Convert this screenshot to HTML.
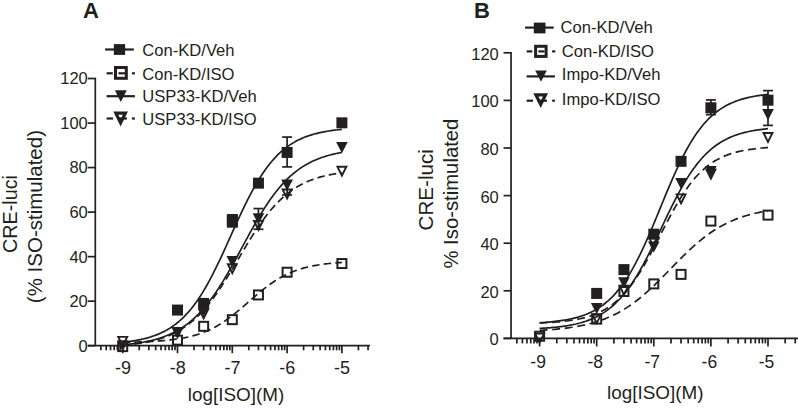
<!DOCTYPE html>
<html><head><meta charset="utf-8"><style>
html,body{margin:0;padding:0;background:#fff;}
svg{display:block;}
text{font-family:"Liberation Sans",sans-serif;fill:#231f20;stroke:none;}
</style></head><body>
<svg width="798" height="408" viewBox="0 0 798 408">
<rect width="798" height="408" fill="#fff"/>
<g stroke="#231f20" stroke-width="1.7" fill="none">
<line x1="95.30" y1="77.67" x2="95.30" y2="345.70" />
<line x1="87.80" y1="345.70" x2="95.30" y2="345.70" />
<text x="87.80" y="351.60" text-anchor="end" font-size="16.5">0</text>
<line x1="87.80" y1="301.17" x2="95.30" y2="301.17" />
<text x="87.80" y="307.07" text-anchor="end" font-size="16.5">20</text>
<line x1="87.80" y1="256.64" x2="95.30" y2="256.64" />
<text x="87.80" y="262.54" text-anchor="end" font-size="16.5">40</text>
<line x1="87.80" y1="212.11" x2="95.30" y2="212.11" />
<text x="87.80" y="218.01" text-anchor="end" font-size="16.5">60</text>
<line x1="87.80" y1="167.58" x2="95.30" y2="167.58" />
<text x="87.80" y="173.48" text-anchor="end" font-size="16.5">80</text>
<line x1="87.80" y1="123.05" x2="95.30" y2="123.05" />
<text x="87.80" y="128.95" text-anchor="end" font-size="16.5">100</text>
<line x1="87.80" y1="78.52" x2="95.30" y2="78.52" />
<text x="87.80" y="84.42" text-anchor="end" font-size="16.5">120</text>
<line x1="87.80" y1="345.70" x2="369.90" y2="345.70" />
<line x1="100.89" y1="345.70" x2="100.89" y2="350.30" />
<line x1="106.20" y1="345.70" x2="106.20" y2="350.30" />
<line x1="110.54" y1="345.70" x2="110.54" y2="350.30" />
<line x1="114.21" y1="345.70" x2="114.21" y2="350.30" />
<line x1="117.39" y1="345.70" x2="117.39" y2="350.30" />
<line x1="120.19" y1="345.70" x2="120.19" y2="350.30" />
<line x1="122.70" y1="345.70" x2="122.70" y2="353.20" />
<line x1="139.20" y1="345.70" x2="139.20" y2="350.30" />
<line x1="148.85" y1="345.70" x2="148.85" y2="350.30" />
<line x1="155.69" y1="345.70" x2="155.69" y2="350.30" />
<line x1="161.00" y1="345.70" x2="161.00" y2="350.30" />
<line x1="165.34" y1="345.70" x2="165.34" y2="350.30" />
<line x1="169.01" y1="345.70" x2="169.01" y2="350.30" />
<line x1="172.19" y1="345.70" x2="172.19" y2="350.30" />
<line x1="174.99" y1="345.70" x2="174.99" y2="350.30" />
<line x1="177.50" y1="345.70" x2="177.50" y2="353.20" />
<line x1="194.00" y1="345.70" x2="194.00" y2="350.30" />
<line x1="203.65" y1="345.70" x2="203.65" y2="350.30" />
<line x1="210.49" y1="345.70" x2="210.49" y2="350.30" />
<line x1="215.80" y1="345.70" x2="215.80" y2="350.30" />
<line x1="220.14" y1="345.70" x2="220.14" y2="350.30" />
<line x1="223.81" y1="345.70" x2="223.81" y2="350.30" />
<line x1="226.99" y1="345.70" x2="226.99" y2="350.30" />
<line x1="229.79" y1="345.70" x2="229.79" y2="350.30" />
<line x1="232.30" y1="345.70" x2="232.30" y2="353.20" />
<line x1="248.80" y1="345.70" x2="248.80" y2="350.30" />
<line x1="258.45" y1="345.70" x2="258.45" y2="350.30" />
<line x1="265.29" y1="345.70" x2="265.29" y2="350.30" />
<line x1="270.60" y1="345.70" x2="270.60" y2="350.30" />
<line x1="274.94" y1="345.70" x2="274.94" y2="350.30" />
<line x1="278.61" y1="345.70" x2="278.61" y2="350.30" />
<line x1="281.79" y1="345.70" x2="281.79" y2="350.30" />
<line x1="284.59" y1="345.70" x2="284.59" y2="350.30" />
<line x1="287.10" y1="345.70" x2="287.10" y2="353.20" />
<line x1="303.60" y1="345.70" x2="303.60" y2="350.30" />
<line x1="313.25" y1="345.70" x2="313.25" y2="350.30" />
<line x1="320.09" y1="345.70" x2="320.09" y2="350.30" />
<line x1="325.40" y1="345.70" x2="325.40" y2="350.30" />
<line x1="329.74" y1="345.70" x2="329.74" y2="350.30" />
<line x1="333.41" y1="345.70" x2="333.41" y2="350.30" />
<line x1="336.59" y1="345.70" x2="336.59" y2="350.30" />
<line x1="339.39" y1="345.70" x2="339.39" y2="350.30" />
<line x1="341.90" y1="345.70" x2="341.90" y2="353.20" />
<line x1="358.40" y1="345.70" x2="358.40" y2="350.30" />
<line x1="368.05" y1="345.70" x2="368.05" y2="350.30" />
<text x="122.90" y="373.60" text-anchor="middle" font-size="18">-9</text>
<text x="177.70" y="373.60" text-anchor="middle" font-size="18">-8</text>
<text x="232.50" y="373.60" text-anchor="middle" font-size="18">-7</text>
<text x="287.30" y="373.60" text-anchor="middle" font-size="18">-6</text>
<text x="342.10" y="373.60" text-anchor="middle" font-size="18">-5</text>
<polyline fill="none" points="122.70,342.26 124.54,342.06 126.38,341.85 128.23,341.61 130.07,341.36 131.91,341.10 133.75,340.81 135.59,340.49 137.44,340.16 139.28,339.80 141.12,339.42 142.96,339.00 144.80,338.56 146.65,338.08 148.49,337.56 150.33,337.01 152.17,336.42 154.01,335.79 155.86,335.11 157.70,334.39 159.54,333.61 161.38,332.78 163.22,331.89 165.07,330.94 166.91,329.93 168.75,328.85 170.59,327.69 172.43,326.46 174.28,325.15 176.12,323.76 177.96,322.28 179.80,320.71 181.64,319.05 183.49,317.28 185.33,315.42 187.17,313.45 189.01,311.37 190.85,309.18 192.70,306.87 194.54,304.45 196.38,301.91 198.22,299.26 200.06,296.48 201.91,293.59 203.75,290.58 205.59,287.45 207.43,284.21 209.27,280.87 211.12,277.41 212.96,273.86 214.80,270.21 216.64,266.47 218.48,262.65 220.33,258.76 222.17,254.82 224.01,250.81 225.85,246.77 227.69,242.70 229.54,238.61 231.38,234.51 233.22,230.42 235.06,226.34 236.91,222.29 238.75,218.27 240.59,214.31 242.43,210.40 244.27,206.57 246.12,202.81 247.96,199.13 249.80,195.55 251.64,192.07 253.48,188.69 255.33,185.42 257.17,182.26 259.01,179.22 260.85,176.29 262.69,173.49 264.54,170.80 266.38,168.23 268.22,165.78 270.06,163.44 271.90,161.22 273.75,159.11 275.59,157.11 277.43,155.21 279.27,153.42 281.11,151.73 282.96,150.13 284.80,148.63 286.64,147.22 288.48,145.88 290.32,144.63 292.17,143.46 294.01,142.36 295.85,141.32 297.69,140.36 299.53,139.45 301.38,138.61 303.22,137.81 305.06,137.07 306.90,136.38 308.74,135.74 310.59,135.14 312.43,134.58 314.27,134.05 316.11,133.57 317.95,133.11 319.80,132.69 321.64,132.30 323.48,131.93 325.32,131.59 327.16,131.27 329.01,130.98 330.85,130.70 332.69,130.45 334.53,130.21 336.37,129.99 338.22,129.78 340.06,129.59 341.90,129.42" />
<polyline fill="none" points="122.70,342.35 124.54,342.32 126.38,342.28 128.23,342.25 130.07,342.21 131.91,342.17 133.75,342.12 135.59,342.08 137.44,342.02 139.28,341.97 141.12,341.91 142.96,341.84 144.80,341.77 146.65,341.69 148.49,341.61 150.33,341.52 152.17,341.42 154.01,341.32 155.86,341.21 157.70,341.08 159.54,340.95 161.38,340.81 163.22,340.66 165.07,340.50 166.91,340.32 168.75,340.13 170.59,339.92 172.43,339.70 174.28,339.46 176.12,339.21 177.96,338.93 179.80,338.64 181.64,338.32 183.49,337.98 185.33,337.62 187.17,337.23 189.01,336.81 190.85,336.36 192.70,335.89 194.54,335.38 196.38,334.83 198.22,334.25 200.06,333.63 201.91,332.98 203.75,332.28 205.59,331.54 207.43,330.76 209.27,329.93 211.12,329.06 212.96,328.14 214.80,327.17 216.64,326.15 218.48,325.08 220.33,323.97 222.17,322.80 224.01,321.59 225.85,320.33 227.69,319.03 229.54,317.68 231.38,316.29 233.22,314.86 235.06,313.40 236.91,311.90 238.75,310.37 240.59,308.81 242.43,307.24 244.27,305.65 246.12,304.05 247.96,302.44 249.80,300.83 251.64,299.22 253.48,297.62 255.33,296.03 257.17,294.46 259.01,292.91 260.85,291.39 262.69,289.90 264.54,288.45 266.38,287.03 268.22,285.65 270.06,284.31 271.90,283.02 273.75,281.77 275.59,280.57 277.43,279.42 279.27,278.32 281.11,277.27 282.96,276.26 284.80,275.31 286.64,274.40 288.48,273.54 290.32,272.72 292.17,271.95 294.01,271.22 295.85,270.54 297.69,269.89 299.53,269.28 301.38,268.71 303.22,268.18 305.06,267.68 306.90,267.21 308.74,266.77 310.59,266.36 312.43,265.98 314.27,265.62 316.11,265.29 317.95,264.98 319.80,264.69 321.64,264.42 323.48,264.17 325.32,263.93 327.16,263.72 329.01,263.52 330.85,263.33 332.69,263.16 334.53,262.99 336.37,262.85 338.22,262.71 340.06,262.58 341.90,262.46" stroke-dasharray="7.5,4.2" />
<polyline fill="none" points="122.70,344.81 124.54,344.64 126.38,344.47 128.23,344.28 130.07,344.08 131.91,343.86 133.75,343.63 135.59,343.39 137.44,343.12 139.28,342.84 141.12,342.54 142.96,342.23 144.80,341.89 146.65,341.52 148.49,341.14 150.33,340.72 152.17,340.28 154.01,339.81 155.86,339.32 157.70,338.78 159.54,338.22 161.38,337.62 163.22,336.97 165.07,336.29 166.91,335.57 168.75,334.80 170.59,333.98 172.43,333.12 174.28,332.20 176.12,331.23 177.96,330.20 179.80,329.11 181.64,327.95 183.49,326.73 185.33,325.45 187.17,324.09 189.01,322.66 190.85,321.15 192.70,319.57 194.54,317.91 196.38,316.16 198.22,314.33 200.06,312.41 201.91,310.41 203.75,308.32 205.59,306.14 207.43,303.87 209.27,301.51 211.12,299.06 212.96,296.52 214.80,293.90 216.64,291.19 218.48,288.40 220.33,285.53 222.17,282.59 224.01,279.57 225.85,276.49 227.69,273.34 229.54,270.14 231.38,266.89 233.22,263.59 235.06,260.26 236.91,256.90 238.75,253.51 240.59,250.11 242.43,246.71 244.27,243.31 246.12,239.91 247.96,236.54 249.80,233.18 251.64,229.87 253.48,226.59 255.33,223.35 257.17,220.17 259.01,217.05 260.85,214.00 262.69,211.01 264.54,208.09 266.38,205.26 268.22,202.50 270.06,199.83 271.90,197.24 273.75,194.74 275.59,192.33 277.43,190.00 279.27,187.77 281.11,185.63 282.96,183.57 284.80,181.60 286.64,179.72 288.48,177.93 290.32,176.21 292.17,174.58 294.01,173.03 295.85,171.56 297.69,170.16 299.53,168.83 301.38,167.57 303.22,166.38 305.06,165.25 306.90,164.18 308.74,163.18 310.59,162.23 312.43,161.33 314.27,160.48 316.11,159.69 317.95,158.94 319.80,158.23 321.64,157.57 323.48,156.94 325.32,156.36 327.16,155.80 329.01,155.29 330.85,154.80 332.69,154.34 334.53,153.91 336.37,153.51 338.22,153.13 340.06,152.78 341.90,152.45" />
<polyline fill="none" points="122.70,345.30 124.54,345.14 126.38,344.98 128.23,344.80 130.07,344.61 131.91,344.40 133.75,344.19 135.59,343.95 137.44,343.70 139.28,343.44 141.12,343.15 142.96,342.85 144.80,342.52 146.65,342.17 148.49,341.80 150.33,341.41 152.17,340.98 154.01,340.53 155.86,340.05 157.70,339.54 159.54,338.99 161.38,338.41 163.22,337.79 165.07,337.13 166.91,336.43 168.75,335.68 170.59,334.89 172.43,334.05 174.28,333.16 176.12,332.21 177.96,331.21 179.80,330.15 181.64,329.03 183.49,327.84 185.33,326.59 187.17,325.27 189.01,323.88 190.85,322.41 192.70,320.87 194.54,319.26 196.38,317.56 198.22,315.78 200.06,313.93 201.91,311.99 203.75,309.96 205.59,307.86 207.43,305.66 209.27,303.39 211.12,301.04 212.96,298.60 214.80,296.09 216.64,293.50 218.48,290.84 220.33,288.12 222.17,285.32 224.01,282.47 225.85,279.57 227.69,276.61 229.54,273.62 231.38,270.58 233.22,267.52 235.06,264.44 236.91,261.34 238.75,258.24 240.59,255.13 242.43,252.03 244.27,248.95 246.12,245.89 247.96,242.86 249.80,239.87 251.64,236.92 253.48,234.02 255.33,231.17 257.17,228.39 259.01,225.67 260.85,223.01 262.69,220.43 264.54,217.93 266.38,215.50 268.22,213.16 270.06,210.89 271.90,208.71 273.75,206.61 275.59,204.60 277.43,202.66 279.27,200.81 281.11,199.04 282.96,197.36 284.80,195.75 286.64,194.21 288.48,192.76 290.32,191.37 292.17,190.06 294.01,188.81 295.85,187.63 297.69,186.52 299.53,185.46 301.38,184.47 303.22,183.53 305.06,182.64 306.90,181.80 308.74,181.02 310.59,180.27 312.43,179.58 314.27,178.92 316.11,178.31 317.95,177.73 319.80,177.19 321.64,176.68 323.48,176.20 325.32,175.75 327.16,175.33 329.01,174.94 330.85,174.57 332.69,174.22 334.53,173.90 336.37,173.60 338.22,173.31 340.06,173.05 341.90,172.80" stroke-dasharray="7.5,4.2" />
<line x1="287.10" y1="137.08" x2="287.10" y2="166.91"/>
<line x1="282.10" y1="137.08" x2="292.10" y2="137.08"/>
<line x1="282.10" y1="166.91" x2="292.10" y2="166.91"/>
<line x1="258.45" y1="208.55" x2="258.45" y2="229.25"/>
<line x1="253.45" y1="208.55" x2="263.45" y2="208.55"/>
<line x1="253.45" y1="229.25" x2="263.45" y2="229.25"/>
<line x1="287.10" y1="180.94" x2="287.10" y2="194.97"/>
<line x1="282.10" y1="180.94" x2="292.10" y2="180.94"/>
<line x1="282.10" y1="194.97" x2="292.10" y2="194.97"/>
<rect x="172.00" y="304.58" width="11.00" height="11.00" fill="#231f20" stroke="none"/>
<rect x="198.15" y="297.90" width="11.00" height="11.00" fill="#231f20" stroke="none"/>
<rect x="226.80" y="215.29" width="11.00" height="11.00" fill="#231f20" stroke="none"/>
<rect x="252.95" y="177.67" width="11.00" height="11.00" fill="#231f20" stroke="none"/>
<rect x="281.60" y="146.94" width="11.00" height="11.00" fill="#231f20" stroke="none"/>
<rect x="336.40" y="117.33" width="11.00" height="11.00" fill="#231f20" stroke="none"/>
<rect x="226.95" y="214.00" width="10.90" height="13.70" fill="#231f20" stroke="none"/>
<rect x="118.20" y="342.09" width="9.00" height="9.00" fill="none" stroke-width="2.0"/>
<rect x="173.00" y="335.63" width="9.00" height="9.00" fill="none" stroke-width="2.0"/>
<rect x="199.15" y="321.83" width="9.00" height="9.00" fill="none" stroke-width="2.0"/>
<rect x="227.80" y="315.15" width="9.00" height="9.00" fill="none" stroke-width="2.0"/>
<rect x="253.95" y="290.44" width="9.00" height="9.00" fill="none" stroke-width="2.0"/>
<rect x="282.60" y="267.73" width="9.00" height="9.00" fill="none" stroke-width="2.0"/>
<rect x="337.40" y="259.04" width="9.00" height="9.00" fill="none" stroke-width="2.0"/>
<polygon points="116.90,340.32 128.50,340.32 122.70,351.52" fill="#231f20" stroke="none"/>
<polygon points="171.70,326.96 183.30,326.96 177.50,338.16" fill="#231f20" stroke="none"/>
<polygon points="197.85,305.37 209.45,305.37 203.65,316.57" fill="#231f20" stroke="none"/>
<polygon points="226.50,255.94 238.10,255.94 232.30,267.14" fill="#231f20" stroke="none"/>
<polygon points="252.65,213.19 264.25,213.19 258.45,224.39" fill="#231f20" stroke="none"/>
<polygon points="281.30,179.57 292.90,179.57 287.10,190.77" fill="#231f20" stroke="none"/>
<polygon points="336.10,141.94 347.70,141.94 341.90,153.14" fill="#231f20" stroke="none"/>
<polygon points="118.24,336.86 127.16,336.86 122.70,345.79" fill="none" stroke-width="1.9" stroke-linejoin="miter" stroke-miterlimit="10"/>
<polygon points="173.04,328.18 181.96,328.18 177.50,337.11" fill="none" stroke-width="1.9" stroke-linejoin="miter" stroke-miterlimit="10"/>
<polygon points="199.18,309.48 208.11,309.48 203.65,318.40" fill="none" stroke-width="1.9" stroke-linejoin="miter" stroke-miterlimit="10"/>
<polygon points="227.84,264.28 236.76,264.28 232.30,273.21" fill="none" stroke-width="1.9" stroke-linejoin="miter" stroke-miterlimit="10"/>
<polygon points="253.98,220.86 262.91,220.86 258.45,229.79" fill="none" stroke-width="1.9" stroke-linejoin="miter" stroke-miterlimit="10"/>
<polygon points="282.64,189.47 291.56,189.47 287.10,198.40" fill="none" stroke-width="1.9" stroke-linejoin="miter" stroke-miterlimit="10"/>
<polygon points="337.44,166.76 346.36,166.76 341.90,175.69" fill="none" stroke-width="1.9" stroke-linejoin="miter" stroke-miterlimit="10"/>
<line x1="105.10" y1="49.50" x2="133.80" y2="49.50" stroke-width="2.2"/>
<rect x="113.85" y="44.10" width="11.30" height="10.80" fill="#231f20" stroke="none"/>
<line x1="106.60" y1="73.30" x2="112.80" y2="73.30" stroke-width="2.2"/>
<line x1="131.90" y1="73.30" x2="134.90" y2="73.30" stroke-width="2.2"/>
<rect x="115.50" y="67.50" width="10.80" height="10.80" fill="none" stroke-width="3.0"/>
<line x1="118.40" y1="73.30" x2="125.00" y2="73.30" stroke-width="2.2"/>
<line x1="106.60" y1="96.20" x2="134.90" y2="96.20" stroke-width="2.2"/>
<polygon points="114.85,90.30 126.75,90.30 120.80,101.90" fill="#231f20" stroke="none"/>
<line x1="106.60" y1="118.50" x2="113.00" y2="118.50" stroke-width="2.2"/>
<line x1="131.90" y1="118.50" x2="134.90" y2="118.50" stroke-width="2.2"/>
<polygon points="115.85,113.10 125.35,113.10 120.60,122.92" fill="none" stroke-width="3.2" stroke-linejoin="miter" stroke-miterlimit="10"/>
<line x1="117.50" y1="118.50" x2="127.00" y2="118.50" stroke-width="2.2"/>
<text x="142.30" y="56.10" font-size="16.6">Con-KD/Veh</text>
<text x="142.30" y="80.00" font-size="16.6">Con-KD/ISO</text>
<text x="142.30" y="102.00" font-size="16.6">USP33-KD/Veh</text>
<text x="142.30" y="124.50" font-size="16.6">USP33-KD/ISO</text>
<line x1="511.05" y1="51.95" x2="511.05" y2="338.40" />
<line x1="503.55" y1="338.40" x2="511.05" y2="338.40" />
<text x="498.80" y="345.30" text-anchor="end" font-size="16.5">0</text>
<line x1="503.55" y1="290.80" x2="511.05" y2="290.80" />
<text x="498.80" y="297.70" text-anchor="end" font-size="16.5">20</text>
<line x1="503.55" y1="243.20" x2="511.05" y2="243.20" />
<text x="498.80" y="250.10" text-anchor="end" font-size="16.5">40</text>
<line x1="503.55" y1="195.60" x2="511.05" y2="195.60" />
<text x="498.80" y="202.50" text-anchor="end" font-size="16.5">60</text>
<line x1="503.55" y1="148.00" x2="511.05" y2="148.00" />
<text x="498.80" y="154.90" text-anchor="end" font-size="16.5">80</text>
<line x1="503.55" y1="100.40" x2="511.05" y2="100.40" />
<text x="498.80" y="107.30" text-anchor="end" font-size="16.5">100</text>
<line x1="503.55" y1="52.80" x2="511.05" y2="52.80" />
<text x="498.80" y="59.70" text-anchor="end" font-size="16.5">120</text>
<line x1="503.55" y1="338.40" x2="799.00" y2="338.40" />
<line x1="516.88" y1="338.40" x2="516.88" y2="343.40" />
<line x1="522.41" y1="338.40" x2="522.41" y2="343.40" />
<line x1="526.93" y1="338.40" x2="526.93" y2="343.40" />
<line x1="530.76" y1="338.40" x2="530.76" y2="343.40" />
<line x1="534.07" y1="338.40" x2="534.07" y2="343.40" />
<line x1="536.99" y1="338.40" x2="536.99" y2="343.40" />
<line x1="539.60" y1="338.40" x2="539.60" y2="346.40" />
<line x1="556.79" y1="338.40" x2="556.79" y2="343.40" />
<line x1="566.84" y1="338.40" x2="566.84" y2="343.40" />
<line x1="573.98" y1="338.40" x2="573.98" y2="343.40" />
<line x1="579.51" y1="338.40" x2="579.51" y2="343.40" />
<line x1="584.03" y1="338.40" x2="584.03" y2="343.40" />
<line x1="587.86" y1="338.40" x2="587.86" y2="343.40" />
<line x1="591.17" y1="338.40" x2="591.17" y2="343.40" />
<line x1="594.09" y1="338.40" x2="594.09" y2="343.40" />
<line x1="596.70" y1="338.40" x2="596.70" y2="346.40" />
<line x1="613.89" y1="338.40" x2="613.89" y2="343.40" />
<line x1="623.94" y1="338.40" x2="623.94" y2="343.40" />
<line x1="631.08" y1="338.40" x2="631.08" y2="343.40" />
<line x1="636.61" y1="338.40" x2="636.61" y2="343.40" />
<line x1="641.13" y1="338.40" x2="641.13" y2="343.40" />
<line x1="644.96" y1="338.40" x2="644.96" y2="343.40" />
<line x1="648.27" y1="338.40" x2="648.27" y2="343.40" />
<line x1="651.19" y1="338.40" x2="651.19" y2="343.40" />
<line x1="653.80" y1="338.40" x2="653.80" y2="346.40" />
<line x1="670.99" y1="338.40" x2="670.99" y2="343.40" />
<line x1="681.04" y1="338.40" x2="681.04" y2="343.40" />
<line x1="688.18" y1="338.40" x2="688.18" y2="343.40" />
<line x1="693.71" y1="338.40" x2="693.71" y2="343.40" />
<line x1="698.23" y1="338.40" x2="698.23" y2="343.40" />
<line x1="702.06" y1="338.40" x2="702.06" y2="343.40" />
<line x1="705.37" y1="338.40" x2="705.37" y2="343.40" />
<line x1="708.29" y1="338.40" x2="708.29" y2="343.40" />
<line x1="710.90" y1="338.40" x2="710.90" y2="346.40" />
<line x1="728.09" y1="338.40" x2="728.09" y2="343.40" />
<line x1="738.14" y1="338.40" x2="738.14" y2="343.40" />
<line x1="745.28" y1="338.40" x2="745.28" y2="343.40" />
<line x1="750.81" y1="338.40" x2="750.81" y2="343.40" />
<line x1="755.33" y1="338.40" x2="755.33" y2="343.40" />
<line x1="759.16" y1="338.40" x2="759.16" y2="343.40" />
<line x1="762.47" y1="338.40" x2="762.47" y2="343.40" />
<line x1="765.39" y1="338.40" x2="765.39" y2="343.40" />
<line x1="768.00" y1="338.40" x2="768.00" y2="346.40" />
<line x1="785.19" y1="338.40" x2="785.19" y2="343.40" />
<line x1="795.24" y1="338.40" x2="795.24" y2="343.40" />
<text x="538.10" y="368.20" text-anchor="middle" font-size="17.5">-9</text>
<text x="595.20" y="368.20" text-anchor="middle" font-size="17.5">-8</text>
<text x="652.30" y="368.20" text-anchor="middle" font-size="17.5">-7</text>
<text x="709.40" y="368.20" text-anchor="middle" font-size="17.5">-6</text>
<text x="766.50" y="368.20" text-anchor="middle" font-size="17.5">-5</text>
<polyline fill="none" points="539.60,322.74 541.52,322.62 543.44,322.49 545.36,322.35 547.28,322.19 549.20,322.03 551.12,321.85 553.04,321.65 554.95,321.44 556.87,321.21 558.79,320.96 560.71,320.70 562.63,320.41 564.55,320.09 566.47,319.76 568.39,319.39 570.31,319.00 572.23,318.57 574.15,318.11 576.07,317.61 577.99,317.08 579.91,316.50 581.83,315.88 583.74,315.20 585.66,314.48 587.58,313.70 589.50,312.86 591.42,311.96 593.34,310.99 595.26,309.95 597.18,308.84 599.10,307.64 601.02,306.36 602.94,304.99 604.86,303.52 606.78,301.95 608.70,300.27 610.62,298.49 612.53,296.59 614.45,294.56 616.37,292.42 618.29,290.14 620.21,287.73 622.13,285.19 624.05,282.50 625.97,279.67 627.89,276.70 629.81,273.58 631.73,270.32 633.65,266.92 635.57,263.37 637.49,259.68 639.41,255.86 641.32,251.91 643.24,247.84 645.16,243.65 647.08,239.36 649.00,234.98 650.92,230.51 652.84,225.97 654.76,221.38 656.68,216.74 658.60,212.08 660.52,207.40 662.44,202.72 664.36,198.07 666.28,193.44 668.19,188.86 670.11,184.34 672.03,179.90 673.95,175.54 675.87,171.27 677.79,167.12 679.71,163.08 681.63,159.17 683.55,155.38 685.47,151.73 687.39,148.22 689.31,144.86 691.23,141.64 693.15,138.56 695.07,135.63 696.98,132.84 698.90,130.19 700.82,127.68 702.74,125.31 704.66,123.07 706.58,120.96 708.50,118.97 710.42,117.10 712.34,115.35 714.26,113.70 716.18,112.16 718.10,110.72 720.02,109.37 721.94,108.11 723.86,106.94 725.77,105.85 727.69,104.83 729.61,103.88 731.53,102.99 733.45,102.17 735.37,101.41 737.29,100.70 739.21,100.04 741.13,99.43 743.05,98.87 744.97,98.34 746.89,97.85 748.81,97.40 750.73,96.99 752.65,96.60 754.56,96.24 756.48,95.91 758.40,95.61 760.32,95.32 762.24,95.06 764.16,94.82 766.08,94.60 768.00,94.39" />
<polyline fill="none" points="539.60,330.45 541.52,330.34 543.44,330.22 545.36,330.09 547.28,329.96 549.20,329.81 551.12,329.66 553.04,329.50 554.95,329.33 556.87,329.15 558.79,328.96 560.71,328.75 562.63,328.54 564.55,328.31 566.47,328.07 568.39,327.81 570.31,327.53 572.23,327.24 574.15,326.94 576.07,326.61 577.99,326.27 579.91,325.90 581.83,325.52 583.74,325.11 585.66,324.68 587.58,324.23 589.50,323.75 591.42,323.24 593.34,322.71 595.26,322.14 597.18,321.55 599.10,320.92 601.02,320.26 602.94,319.57 604.86,318.84 606.78,318.08 608.70,317.27 610.62,316.43 612.53,315.55 614.45,314.62 616.37,313.65 618.29,312.64 620.21,311.59 622.13,310.49 624.05,309.34 625.97,308.15 627.89,306.90 629.81,305.62 631.73,304.28 633.65,302.90 635.57,301.47 637.49,299.99 639.41,298.47 641.32,296.90 643.24,295.29 645.16,293.63 647.08,291.94 649.00,290.21 650.92,288.44 652.84,286.63 654.76,284.80 656.68,282.93 658.60,281.04 660.52,279.12 662.44,277.19 664.36,275.24 666.28,273.28 668.19,271.31 670.11,269.34 672.03,267.36 673.95,265.39 675.87,263.43 677.79,261.47 679.71,259.53 681.63,257.61 683.55,255.71 685.47,253.84 687.39,251.99 689.31,250.17 691.23,248.39 693.15,246.64 695.07,244.93 696.98,243.26 698.90,241.63 700.82,240.05 702.74,238.51 704.66,237.02 706.58,235.57 708.50,234.17 710.42,232.81 712.34,231.51 714.26,230.25 716.18,229.04 718.10,227.87 720.02,226.76 721.94,225.68 723.86,224.66 725.77,223.67 727.69,222.73 729.61,221.83 731.53,220.98 733.45,220.16 735.37,219.38 737.29,218.64 739.21,217.93 741.13,217.26 743.05,216.62 744.97,216.01 746.89,215.44 748.81,214.89 750.73,214.38 752.65,213.89 754.56,213.42 756.48,212.98 758.40,212.57 760.32,212.17 762.24,211.80 764.16,211.45 766.08,211.12 768.00,210.80" stroke-dasharray="8,4.6" />
<polyline fill="none" points="539.60,328.41 541.52,328.30 543.44,328.19 545.36,328.06 547.28,327.93 549.20,327.78 551.12,327.63 553.04,327.46 554.95,327.27 556.87,327.07 558.79,326.86 560.71,326.62 562.63,326.37 564.55,326.10 566.47,325.81 568.39,325.49 570.31,325.15 572.23,324.78 574.15,324.38 576.07,323.96 577.99,323.49 579.91,323.00 581.83,322.46 583.74,321.88 585.66,321.26 587.58,320.59 589.50,319.88 591.42,319.10 593.34,318.28 595.26,317.39 597.18,316.43 599.10,315.41 601.02,314.31 602.94,313.14 604.86,311.89 606.78,310.56 608.70,309.13 610.62,307.61 612.53,305.99 614.45,304.28 616.37,302.45 618.29,300.52 620.21,298.47 622.13,296.31 624.05,294.03 625.97,291.63 627.89,289.10 629.81,286.45 631.73,283.68 633.65,280.79 635.57,277.77 637.49,274.63 639.41,271.38 641.32,268.01 643.24,264.54 645.16,260.97 647.08,257.30 649.00,253.55 650.92,249.72 652.84,245.83 654.76,241.88 656.68,237.89 658.60,233.87 660.52,229.83 662.44,225.78 664.36,221.74 666.28,217.72 668.19,213.73 670.11,209.79 672.03,205.90 673.95,202.08 675.87,198.34 677.79,194.68 679.71,191.11 681.63,187.65 683.55,184.29 685.47,181.05 687.39,177.92 689.31,174.91 691.23,172.03 693.15,169.27 695.07,166.63 696.98,164.12 698.90,161.73 700.82,159.46 702.74,157.30 704.66,155.27 706.58,153.34 708.50,151.53 710.42,149.82 712.34,148.21 714.26,146.70 716.18,145.28 718.10,143.95 720.02,142.71 721.94,141.54 723.86,140.46 725.77,139.44 727.69,138.49 729.61,137.61 731.53,136.78 733.45,136.02 735.37,135.30 737.29,134.64 739.21,134.02 741.13,133.45 743.05,132.92 744.97,132.42 746.89,131.96 748.81,131.54 750.73,131.14 752.65,130.78 754.56,130.44 756.48,130.12 758.40,129.83 760.32,129.56 762.24,129.31 764.16,129.08 766.08,128.87 768.00,128.67" />
<polyline fill="none" points="539.60,322.99 541.52,322.91 543.44,322.83 545.36,322.73 547.28,322.63 549.20,322.53 551.12,322.41 553.04,322.28 554.95,322.14 556.87,321.99 558.79,321.82 560.71,321.65 562.63,321.45 564.55,321.24 566.47,321.02 568.39,320.77 570.31,320.50 572.23,320.21 574.15,319.90 576.07,319.56 577.99,319.19 579.91,318.79 581.83,318.35 583.74,317.88 585.66,317.38 587.58,316.83 589.50,316.24 591.42,315.60 593.34,314.91 595.26,314.17 597.18,313.36 599.10,312.50 601.02,311.57 602.94,310.57 604.86,309.50 606.78,308.35 608.70,307.12 610.62,305.79 612.53,304.38 614.45,302.87 616.37,301.27 618.29,299.55 620.21,297.74 622.13,295.80 624.05,293.76 625.97,291.60 627.89,289.32 629.81,286.92 631.73,284.39 633.65,281.75 635.57,278.99 637.49,276.11 639.41,273.12 641.32,270.01 643.24,266.80 645.16,263.50 647.08,260.10 649.00,256.62 650.92,253.07 652.84,249.46 654.76,245.80 656.68,242.10 658.60,238.38 660.52,234.64 662.44,230.90 664.36,227.18 666.28,223.49 668.19,219.83 670.11,216.23 672.03,212.69 673.95,209.22 675.87,205.84 677.79,202.55 679.71,199.36 681.63,196.27 683.55,193.30 685.47,190.43 687.39,187.69 689.31,185.07 691.23,182.56 693.15,180.18 695.07,177.92 696.98,175.78 698.90,173.75 700.82,171.84 702.74,170.03 704.66,168.34 706.58,166.75 708.50,165.25 710.42,163.86 712.34,162.55 714.26,161.33 716.18,160.19 718.10,159.13 720.02,158.14 721.94,157.23 723.86,156.37 725.77,155.58 727.69,154.84 729.61,154.16 731.53,153.53 733.45,152.95 735.37,152.41 737.29,151.91 739.21,151.44 741.13,151.02 743.05,150.62 744.97,150.26 746.89,149.92 748.81,149.61 750.73,149.32 752.65,149.06 754.56,148.81 756.48,148.59 758.40,148.38 760.32,148.19 762.24,148.01 764.16,147.85 766.08,147.70 768.00,147.57" stroke-dasharray="8,4.6" />
<line x1="710.90" y1="99.92" x2="710.90" y2="114.68"/>
<line x1="705.90" y1="99.92" x2="715.90" y2="99.92"/>
<line x1="705.90" y1="114.68" x2="715.90" y2="114.68"/>
<line x1="768.00" y1="90.64" x2="768.00" y2="125.39"/>
<line x1="763.00" y1="90.64" x2="773.00" y2="90.64"/>
<line x1="763.00" y1="125.39" x2="773.00" y2="125.39"/>
<rect x="591.20" y="287.92" width="11.00" height="11.00" fill="#231f20" stroke="none"/>
<rect x="618.44" y="264.12" width="11.00" height="11.00" fill="#231f20" stroke="none"/>
<rect x="648.30" y="228.66" width="11.00" height="11.00" fill="#231f20" stroke="none"/>
<rect x="675.54" y="155.83" width="11.00" height="11.00" fill="#231f20" stroke="none"/>
<rect x="705.40" y="102.28" width="11.00" height="11.00" fill="#231f20" stroke="none"/>
<rect x="762.50" y="94.66" width="11.00" height="11.00" fill="#231f20" stroke="none"/>
<rect x="535.10" y="331.76" width="9.00" height="9.00" fill="none" stroke-width="2.0"/>
<rect x="592.20" y="314.62" width="9.00" height="9.00" fill="none" stroke-width="2.0"/>
<rect x="619.44" y="287.01" width="9.00" height="9.00" fill="none" stroke-width="2.0"/>
<rect x="649.30" y="279.40" width="9.00" height="9.00" fill="none" stroke-width="2.0"/>
<rect x="676.54" y="269.88" width="9.00" height="9.00" fill="none" stroke-width="2.0"/>
<rect x="706.40" y="216.57" width="9.00" height="9.00" fill="none" stroke-width="2.0"/>
<rect x="763.50" y="210.62" width="9.00" height="9.00" fill="none" stroke-width="2.0"/>
<polygon points="590.90,303.05 602.50,303.05 596.70,314.25" fill="#231f20" stroke="none"/>
<polygon points="618.14,277.35 629.74,277.35 623.94,288.55" fill="#231f20" stroke="none"/>
<polygon points="648.00,241.41 659.60,241.41 653.80,252.61" fill="#231f20" stroke="none"/>
<polygon points="675.24,178.10 686.84,178.10 681.04,189.30" fill="#231f20" stroke="none"/>
<polygon points="705.10,165.96 716.70,165.96 710.90,177.16" fill="#231f20" stroke="none"/>
<polygon points="762.20,109.08 773.80,109.08 768.00,120.28" fill="#231f20" stroke="none"/>
<polygon points="535.14,333.59 544.06,333.59 539.60,342.51" fill="none" stroke-width="1.9" stroke-linejoin="miter" stroke-miterlimit="10"/>
<polygon points="592.24,314.31 601.16,314.31 596.70,323.24" fill="none" stroke-width="1.9" stroke-linejoin="miter" stroke-miterlimit="10"/>
<polygon points="619.48,285.75 628.41,285.75 623.94,294.68" fill="none" stroke-width="1.9" stroke-linejoin="miter" stroke-miterlimit="10"/>
<polygon points="649.34,238.15 658.26,238.15 653.80,247.08" fill="none" stroke-width="1.9" stroke-linejoin="miter" stroke-miterlimit="10"/>
<polygon points="676.58,194.36 685.51,194.36 681.04,203.28" fill="none" stroke-width="1.9" stroke-linejoin="miter" stroke-miterlimit="10"/>
<polygon points="706.44,169.61 715.36,169.61 710.90,178.53" fill="none" stroke-width="1.9" stroke-linejoin="miter" stroke-miterlimit="10"/>
<polygon points="763.54,132.95 772.46,132.95 768.00,141.88" fill="none" stroke-width="1.9" stroke-linejoin="miter" stroke-miterlimit="10"/>
<line x1="525.10" y1="27.60" x2="553.70" y2="27.60" stroke-width="2.2"/>
<rect x="533.80" y="22.60" width="11.70" height="10.80" fill="#231f20" stroke="none"/>
<line x1="526.70" y1="51.40" x2="532.30" y2="51.40" stroke-width="2.2"/>
<line x1="552.10" y1="51.40" x2="555.30" y2="51.40" stroke-width="2.2"/>
<rect x="535.60" y="46.30" width="10.50" height="10.10" fill="none" stroke-width="3.0"/>
<line x1="538.40" y1="51.40" x2="544.50" y2="51.40" stroke-width="2.2"/>
<line x1="526.60" y1="76.40" x2="554.90" y2="76.40" stroke-width="2.2"/>
<polygon points="535.20,70.50 546.80,70.50 541.00,81.80" fill="#231f20" stroke="none"/>
<line x1="526.60" y1="100.70" x2="533.00" y2="100.70" stroke-width="2.2"/>
<line x1="552.20" y1="100.70" x2="554.90" y2="100.70" stroke-width="2.2"/>
<polygon points="535.89,94.90 545.51,94.90 540.70,104.52" fill="none" stroke-width="3.2" stroke-linejoin="miter" stroke-miterlimit="10"/>
<line x1="537.50" y1="100.70" x2="547.00" y2="100.70" stroke-width="2.2"/>
<text x="560.50" y="33.40" font-size="16.6">Con-KD/Veh</text>
<text x="561.80" y="56.80" font-size="16.6">Con-KD/ISO</text>
<text x="561.80" y="80.20" font-size="16.6">Impo-KD/Veh</text>
<text x="561.80" y="104.90" font-size="16.6">Impo-KD/ISO</text>
<text x="83.0" y="17.8" font-size="22" font-weight="bold">A</text>
<text x="474" y="17.8" font-size="22" font-weight="bold">B</text>
<text x="236" y="401.3" text-anchor="middle" font-size="18.9">log[ISO](M)</text>
<text x="655.3" y="398.8" text-anchor="middle" font-size="18.9">log[ISO](M)</text>
<text transform="translate(16.90,214.10) rotate(-90)" text-anchor="middle" font-size="19.8">CRE-luci</text>
<text transform="translate(41.90,216.60) rotate(-90)" text-anchor="middle" font-size="20.5">(% ISO-stimulated)</text>
<text transform="translate(432.70,189.80) rotate(-90)" text-anchor="middle" font-size="20.6">CRE-luci</text>
<text transform="translate(457.80,193.60) rotate(-90)" text-anchor="middle" font-size="20.3">% Iso-stimulated</text>
</g>
</svg>
</body></html>
